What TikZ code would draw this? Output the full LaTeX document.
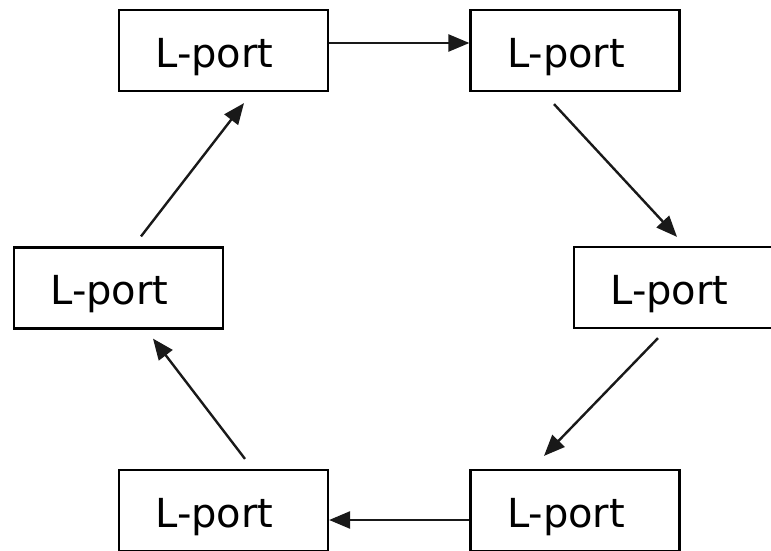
\documentclass[tikz,border=0pt]{standalone}
\usepackage{fontspec}
\setmainfont{DejaVu Sans}
\usetikzlibrary{arrows.meta}
\newcommand{\lporttext}{L-port\hspace*{18pt}}
\begin{document}
\begin{tikzpicture}[x=1pt,y=-1pt,
  portbox/.style={draw=black, line width=2.2pt, fill=white, minimum width=209pt, minimum height=81pt, inner sep=0pt, text height=36pt, text depth=3pt, font=\fontsize{40pt}{44pt}\selectfont},
  link/.style={draw=black!90, line width=2.4pt, -{Triangle[length=21pt,width=17pt]}}]
\useasboundingbox (0,0) rectangle (771,551);
\clip (0,0) rectangle (771,551);
\fill[white] (0,0) rectangle (771,551);
\node[portbox] (tl) at (223.5,50.5) {\lporttext};
\node[portbox] (tr) at (575,50.5) {\lporttext};
\node[portbox] (ml) at (118.5,288) {\lporttext};
\node[portbox] (mr) at (678.5,287.5) {\lporttext};
\node[portbox] (bl) at (223.5,510.5) {\lporttext};
\node[portbox] (br) at (575,510.5) {\lporttext};
\draw[link] ([yshift=7.5pt]tl.east) -- ([yshift=7.5pt]tr.west);
\draw[link] ([shift={(-21pt,-12pt)}]tr.south) -- ([shift={(-1.5pt,9pt)}]mr.north);
\draw[link] ([shift={(-20.5pt,-9pt)}]mr.south) -- ([shift={(-31pt,13pt)}]br.north);
\draw[link] ([yshift=-9.5pt]br.west) -- ([yshift=-9.5pt]bl.east);
\draw[link] ([shift={(21.5pt,10pt)}]bl.north) -- ([shift={(34.5pt,-9pt)}]ml.south);
\draw[link] ([shift={(22.5pt,10pt)}]ml.north) -- ([shift={(20.5pt,-11pt)}]tl.south);
\end{tikzpicture}
\end{document}
